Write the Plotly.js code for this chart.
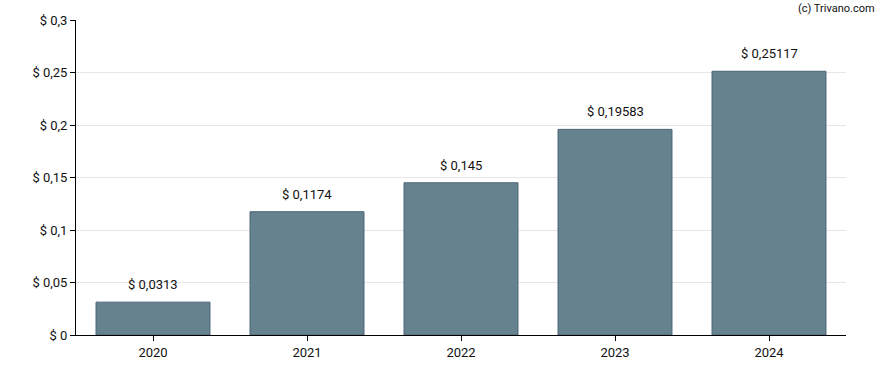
<!DOCTYPE html>
<html>
<head>
<meta charset="utf-8">
<script src="https://cdn.plot.ly/plotly-3.0.1.min.js"></script>
<style>html,body{margin:0;padding:0;background:#fff;}#chart{width:888px;height:370px;}</style>
</head>
<body>
<div id="chart"></div>
<script>
const years = ["2020", "2021", "2022", "2023", "2024"];
const values = [0.0313, 0.1174, 0.145, 0.19583, 0.25117];
const valueLabels = ["$ 0,0313", "$ 0,1174", "$ 0,145", "$ 0,19583", "$ 0,25117"];

const trace = {
  type: "bar",
  x: years,
  y: values,
  marker: { color: "#66828f", line: { color: "#4b6577", width: 1 } },
  hoverinfo: "none"
};

const annotations = years.map((yr, i) => ({
  x: i, y: values[i], xref: "x", yref: "y",
  text: valueLabels[i], showarrow: false,
  yanchor: "bottom", yshift: 8,
  font: { family: "Roboto, sans-serif", size: 13, color: "#111" }
}));
annotations.push({
  xref: "paper", yref: "paper", x: 1.040, y: 1.038, xanchor: "right", yanchor: "middle",
  text: "(c) Trivano.com", showarrow: false,
  font: { family: "Roboto, sans-serif", size: 11, color: "#111" }
});

const layout = {
  width: 888, height: 370,
  margin: { l: 76, r: 42, t: 20, b: 35 },
  paper_bgcolor: "#fff", plot_bgcolor: "#fff",
  separators: ", ",
  bargap: 0.26,
  font: { family: "Roboto, sans-serif", size: 13, color: "#111" },
  showlegend: false,
  xaxis: {
    type: "category",
    range: [-0.5, 4.5], autorange: false,
    showline: true, linecolor: "#000", linewidth: 1,
    ticks: "outside", ticklen: 5, tickcolor: "#000",
    showgrid: false, fixedrange: true
  },
  yaxis: {
    range: [0, 0.3], autorange: false, dtick: 0.05, tick0: 0,
    tickprefix: "$ ",
    showline: true, linecolor: "#000", linewidth: 1,
    ticks: "outside", ticklen: 5, tickcolor: "#000",
    gridcolor: "#e6e6e6", zeroline: false, fixedrange: true
  },
  annotations: annotations
};

Plotly.newPlot("chart", [trace], layout, { staticPlot: true, displayModeBar: false });
</script>
</body>
</html>
